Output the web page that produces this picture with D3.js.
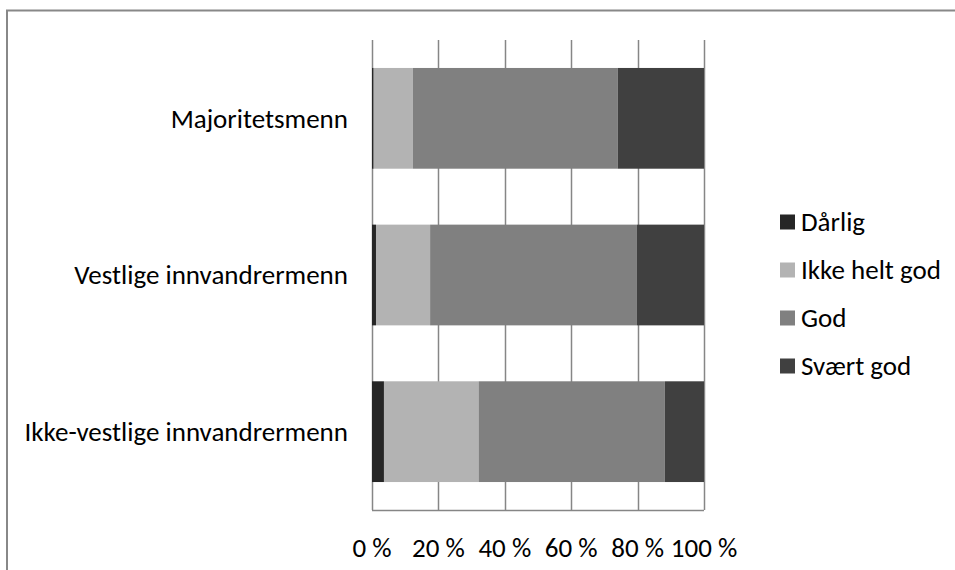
<!DOCTYPE html>
<html>
<head>
<meta charset="utf-8">
<script src="https://cdn.jsdelivr.net/npm/d3@7"></script>
<style>
  body { margin: 0; background: #fff; }
  svg { display: block; font-family: Carlito, Calibri, Lato, sans-serif; }
</style>
</head>
<body>
<div id="chart"></div>
<script>
// categories top to bottom
var groups = ["Majoritetsmenn", "Vestlige innvandrermenn", "Ikke-vestlige innvandrermenn"];
var series = ["Dårlig", "Ikke helt god", "God", "Svært god"];
var colors = ["#262626", "#b3b3b3", "#808080", "#404040"];

// shares in percent, one array per series (same order as groups)
var darlig      = [0.5, 1.2, 3.6];
var ikkeHeltGod = [11.8, 16.3, 28.5];
var god         = [61.7, 62.3, 56.1];
var svaertGod   = [26.0, 20.2, 11.8];

var xTicks = [0, 20, 40, 60, 80, 100];

var W = 955, H = 570;
var fontSize = 27;
var margin = {top: 40, left: 372, right: 251, bottom: 60};
var w = 704 - margin.left,
    h = 510 - margin.top;

var rows = groups.map(function(g, i) {
  return {group: g, values: [darlig[i], ikkeHeltGod[i], god[i], svaertGod[i]]};
});

var svg = d3.select("#chart").append("svg")
    .attr("width", W)
    .attr("height", H);

// outer frame (only top and left visible in the picture)
svg.append("rect")
    .attr("x", 7)
    .attr("y", 10.5)
    .attr("width", W + 20)
    .attr("height", H + 20)
    .attr("fill", "none")
    .attr("stroke", "#888")
    .attr("stroke-width", 2);

var g = svg.append("g")
    .attr("transform", "translate(" + margin.left + "," + margin.top + ")");

var x = d3.scaleLinear().domain([0, 100]).range([0, w]);
var y = d3.scaleBand().domain(groups).range([0, h])
    .paddingInner(0.357).paddingOuter(0.1785);

// gridlines (incl. the left axis at 0 %)
g.selectAll(".grid")
  .data(xTicks)
  .enter().append("line")
    .attr("x1", function(d) { return Math.round(x(d)) + 0.5; })
    .attr("x2", function(d) { return Math.round(x(d)) + 0.5; })
    .attr("y1", 0)
    .attr("y2", h)
    .attr("stroke", "#868686")
    .attr("stroke-width", 1.5);

// stacked bars
var rowG = g.selectAll(".row")
  .data(rows)
  .enter().append("g")
    .attr("transform", function(d) { return "translate(0," + y(d.group) + ")"; });

rowG.selectAll("rect")
  .data(function(d) {
    var acc = 0;
    return d.values.map(function(v, j) {
      var s = {x0: acc, x1: acc + v, i: j};
      acc += v;
      return s;
    });
  })
  .enter().append("rect")
    .attr("x", function(d) { return x(d.x0); })
    .attr("width", function(d) { return x(d.x1) - x(d.x0); })
    .attr("y", 0)
    .attr("height", y.bandwidth())
    .attr("fill", function(d) { return colors[d.i]; });

// bottom axis line
g.append("line")
    .attr("x1", 0).attr("x2", w)
    .attr("y1", h + 0.5).attr("y2", h + 0.5)
    .attr("stroke", "#868686")
    .attr("stroke-width", 1.5);

// x tick labels
g.selectAll(".xlab")
  .data(xTicks)
  .enter().append("text")
    .attr("x", function(d) { return x(d); })
    .attr("y", h + 47)
    .attr("text-anchor", "middle")
    .attr("font-size", fontSize)
    .attr("fill", "#000")
    .text(function(d) { return d + " %"; });

// category labels
g.selectAll(".ylab")
  .data(groups)
  .enter().append("text")
    .attr("x", -24)
    .attr("y", function(d) { return y(d) + y.bandwidth() / 2; })
    .attr("dy", "0.35em")
    .attr("text-anchor", "end")
    .attr("font-size", fontSize)
    .attr("fill", "#000")
    .text(function(d) { return d; });

// legend
var legend = svg.selectAll(".legend")
  .data(series)
  .enter().append("g")
    .attr("transform", function(d, i) { return "translate(780," + (222 + i * 48) + ")"; });

legend.append("rect")
    .attr("x", 0)
    .attr("y", -7.5)
    .attr("width", 15)
    .attr("height", 15)
    .attr("fill", function(d, i) { return colors[i]; });

legend.append("text")
    .attr("x", 21)
    .attr("y", 0)
    .attr("dy", "0.35em")
    .attr("font-size", fontSize)
    .attr("fill", "#000")
    .text(function(d) { return d; });
</script>
</body>
</html>
